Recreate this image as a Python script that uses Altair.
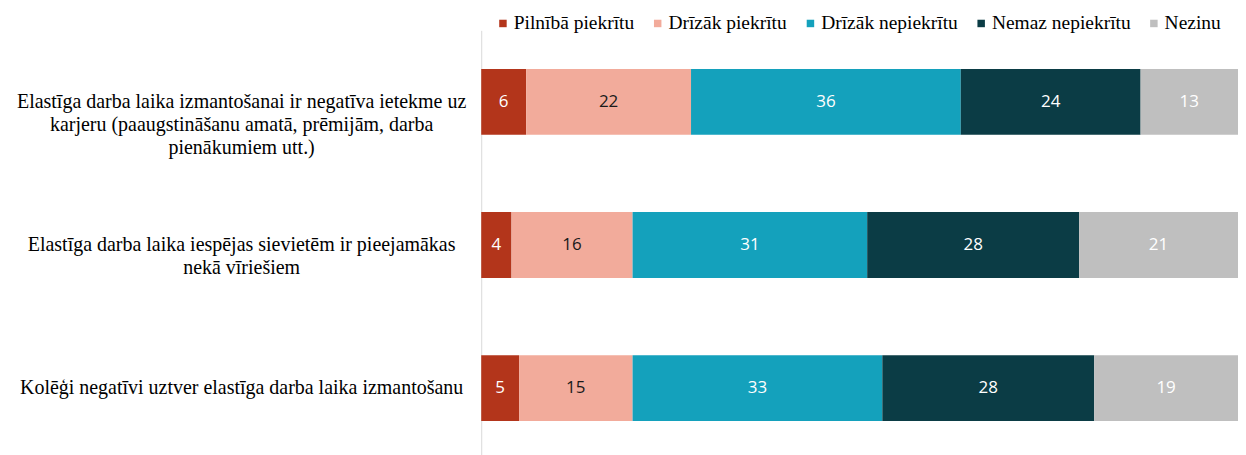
import altair as alt
import pandas as pd

categories = [
    "Elastīga darba laika izmantošanai ir negatīva ietekme uz\nkarjeru (paaugstināšanu amatā, prēmijām, darba\npienākumiem utt.)",
    "Elastīga darba laika iespējas sievietēm ir pieejamākas\nnekā vīriešiem",
    "Kolēģi negatīvi uztver elastīga darba laika izmantošanu",
]
series = ["Pilnībā piekrītu", "Drīzāk piekrītu", "Drīzāk nepiekrītu", "Nemaz nepiekrītu", "Nezinu"]
pilniba = [6, 4, 5]
drizak_piekritu = [22, 16, 15]
drizak_nepiekritu = [36, 31, 33]
nemaz = [24, 28, 28]
nezinu = [13, 21, 19]
values = [pilniba, drizak_piekritu, drizak_nepiekritu, nemaz, nezinu]
colors = ["#B3351B", "#F2AB9B", "#14A1BC", "#0B3C45", "#BFBFBF"]

SERIF = "'Liberation Serif', 'Times New Roman', serif"

rows = []
for si, (s, vals) in enumerate(zip(series, values)):
    for ci, c in enumerate(categories):
        rows.append({"cat": c, "series": s, "order": si, "value": vals[ci]})
df = pd.DataFrame(rows)
labels_df = pd.DataFrame({"cat": categories})

yscale = alt.Scale(domain=categories, paddingInner=0.54, paddingOuter=0.27, range=[0, 430])
yaxis = alt.Axis(labels=False, ticks=False, title=None, grid=False,
                 domainColor="#D9D9D9", domainWidth=1)

base = alt.Chart(df).transform_stack(
    stack="value", groupby=["cat"], as_=["x0", "x1"], offset="normalize",
    sort=[alt.SortField("order")]
).transform_calculate(mid="(datum.x0 + datum.x1) / 2")

bars = base.mark_bar().encode(
    y=alt.Y("cat:N", scale=yscale, axis=yaxis),
    x=alt.X("x0:Q", scale=alt.Scale(domain=[0, 1], nice=False), axis=None),
    x2="x1:Q",
    color=alt.Color("series:N", scale=alt.Scale(domain=series, range=colors),
                    legend=alt.Legend(orient="none", legendX=12, legendY=-17,
                                      direction="horizontal", title=None,
                                      symbolType="square", symbolSize=56,
                                      symbolStrokeWidth=0,
                                      labelFont=SERIF, labelFontSize=19.5,
                                      labelColor="#000000", columnPadding=13,
                                      labelOffset=1, padding=0)),
)

vals_text = base.mark_text(font="Open Sans", fontSize=17).encode(
    y=alt.Y("cat:N", scale=yscale, axis=yaxis),
    x=alt.X("mid:Q", scale=alt.Scale(domain=[0, 1], nice=False), axis=None),
    text="value:Q",
    color=alt.condition(alt.datum.series == "Drīzāk piekrītu",
                        alt.value("#1a1a1a"), alt.value("#ffffff")),
)

cat_text = alt.Chart(labels_df).mark_text(
    font=SERIF, fontSize=20, lineBreak="\n", lineHeight=23,
    align="center", baseline="middle", color="#000000"
).encode(
    y=alt.Y("cat:N", scale=yscale, axis=yaxis),
    x=alt.value(-240),
    text="cat:N",
)

chart = alt.layer(bars, vals_text, cat_text).properties(
    width=758, height=425,
    autosize=alt.AutoSizeParams(type="none"),
    padding={"left": 474, "top": 22, "right": 0, "bottom": 0},
).configure_view(stroke=None)

chart.save("out.html", embed_options={"renderer": "svg", "actions": False})
